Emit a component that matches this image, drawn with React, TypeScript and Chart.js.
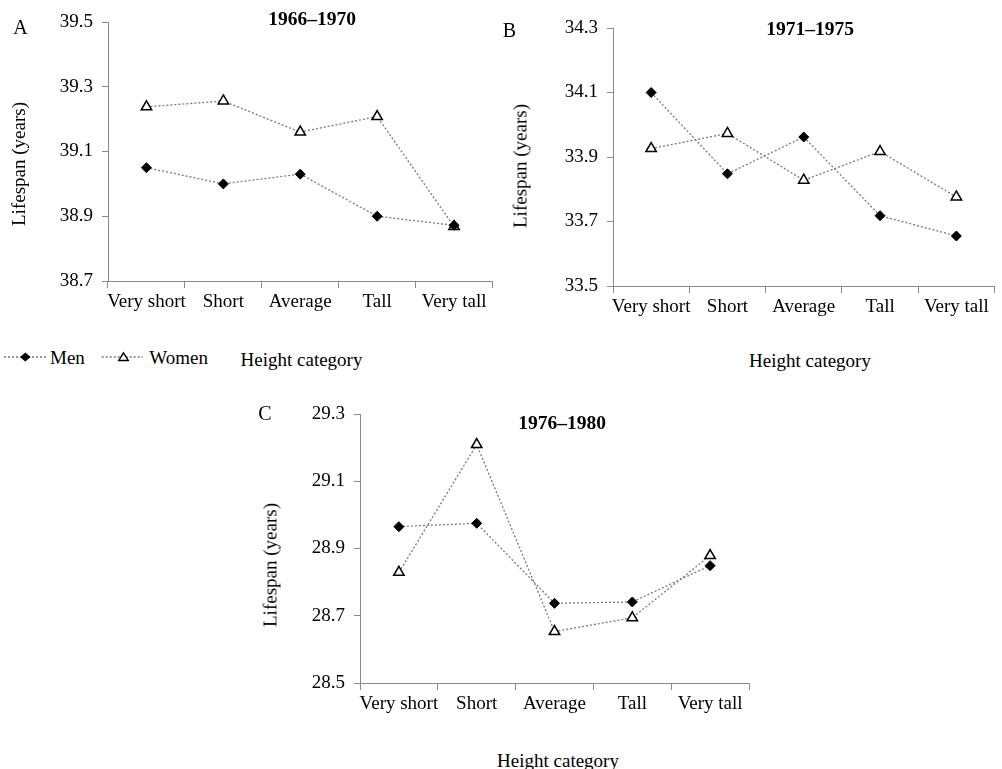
import React, { useEffect, useRef } from 'react';
import { Chart, registerables } from 'chart.js';

Chart.register(...registerables);

// ---- data ----
const categories = ['Very short', 'Short', 'Average', 'Tall', 'Very tall'];

const menA = [39.05, 39.0, 39.03, 38.9, 38.872];
const womenA = [39.238, 39.256, 39.16, 39.208, 38.868];
const yTicksA = [38.7, 38.9, 39.1, 39.3, 39.5];

const menB = [34.1, 33.848, 33.962, 33.718, 33.655];
const womenB = [33.926, 33.973, 33.828, 33.917, 33.776];
const yTicksB = [33.5, 33.7, 33.9, 34.1, 34.3];

const menC = [28.965, 28.975, 28.737, 28.741, 28.849];
const womenC = [28.829, 29.209, 28.653, 28.694, 28.879];
const yTicksC = [28.5, 28.7, 28.9, 29.1, 29.3];

const titles = ['1966\u20131970', '1971\u20131975', '1976\u20131980'];
const panelLetters = ['A', 'B', 'C'];
const seriesNames = ['Men', 'Women'];
const xTitle = 'Height category';
const yTitle = 'Lifespan (years)';

// ---- style ----
const FONT = '"Liberation Serif", "Times New Roman", serif';
const FS = 19;
const GRAY = '#7a7a7a';
const AXIS = '#8a8a8a';

type Area = { left: number; top: number; right: number; bottom: number };

function Panel(props: {
  left: number; top: number; width: number; height: number; area: Area;
  men: number[]; women: number[]; yTicks: number[];
}) {
  const { left, top, width, height, area, men, women, yTicks } = props;
  const ref = useRef<HTMLCanvasElement | null>(null);
  useEffect(() => {
    if (!ref.current) return;
    const chart = new Chart(ref.current, {
      type: 'line',
      data: {
        labels: categories,
        datasets: [
          {
            label: seriesNames[0],
            data: men,
            borderColor: GRAY,
            borderWidth: 1.3,
            borderDash: [2, 2],
            tension: 0,
            fill: false,
            pointStyle: 'rectRot',
            pointRadius: 5,
            pointBackgroundColor: '#000',
            pointBorderColor: '#000',
            pointBorderWidth: 1,
          },
          {
            label: seriesNames[1],
            data: women,
            borderColor: GRAY,
            borderWidth: 1.3,
            borderDash: [2, 2],
            tension: 0,
            fill: false,
            pointStyle: 'triangle',
            pointRadius: 6,
            pointBackgroundColor: '#fff',
            pointBorderColor: '#000',
            pointBorderWidth: 1.5,
          },
        ],
      },
      options: {
        animation: false,
        responsive: false,
        events: [],
        layout: { padding: { left: 0, top: area.top, right: width - area.right, bottom: 0 } },
        plugins: {
          legend: { display: false },
          tooltip: { enabled: false },
          title: { display: false },
        },
        scales: {
          x: {
            type: 'category',
            offset: true,
            grid: {
              display: true,
              offset: true,
              drawOnChartArea: false,
              drawTicks: true,
              tickLength: 7,
              tickColor: AXIS,
              tickWidth: 1,
            },
            border: { display: true, color: AXIS, width: 1 },
            ticks: {
              color: '#000',
              font: { family: FONT, size: FS },
              padding: 3,
              maxRotation: 0,
              autoSkip: false,
            },
            afterFit: (s: any) => {
              s.height = height - area.bottom;
              s.paddingLeft = 0;
              s.paddingRight = 0;
            },
          },
          y: {
            type: 'linear',
            min: yTicks[0],
            max: yTicks[yTicks.length - 1],
            afterBuildTicks: (s: any) => {
              s.ticks = yTicks.map((v) => ({ value: v }));
            },
            grid: {
              display: true,
              drawOnChartArea: false,
              drawTicks: true,
              tickLength: 6,
              tickColor: AXIS,
              tickWidth: 1,
            },
            border: { display: true, color: AXIS, width: 1 },
            ticks: {
              color: '#000',
              font: { family: FONT, size: FS },
              padding: 9,
              callback: (v: any) => Number(v).toFixed(1),
            },
            afterFit: (s: any) => {
              s.width = area.left;
              s.paddingTop = 0;
              s.paddingBottom = 0;
            },
          },
        },
      } as any,
    });
    return () => chart.destroy();
  }, []);
  return (
    <canvas
      ref={ref}
      width={width}
      height={height}
      style={{ position: 'absolute', left, top, width, height }}
    />
  );
}

function Txt(props: { x: number; y: number; text: string; bold?: boolean; rotate?: boolean; align?: 'center' | 'left'; size?: number }) {
  const { x, y, text, bold, rotate, align, size } = props;
  const tx = align === 'left' ? '0' : '-50%';
  return (
    <div
      style={{
        position: 'absolute',
        left: x,
        top: y,
        transform: `translate(${tx},-50%)${rotate ? ' rotate(-90deg)' : ''}`,
        font: `${bold ? 'bold ' : ''}${size ?? FS}px ${FONT}`,
        lineHeight: 1,
        whiteSpace: 'nowrap',
        color: '#000',
      }}
    >
      {text}
    </div>
  );
}

export default function App() {
  return (
    <div
      style={{
        position: 'absolute',
        left: 0,
        top: 0,
        width: 1002,
        height: 769,
        background: '#fff',
        overflow: 'hidden',
      }}
    >
      <Panel
        left={0} top={0} width={500} height={330}
        area={{ left: 108, top: 22, right: 497, bottom: 281 }}
        men={menA} women={womenA} yTicks={yTicksA}
      />
      <Panel
        left={500} top={0} width={502} height={330}
        area={{ left: 113, top: 28, right: 501, bottom: 286 }}
        men={menB} women={womenB} yTicks={yTicksB}
      />
      <Panel
        left={250} top={390} width={520} height={340}
        area={{ left: 110, top: 24, right: 499, bottom: 293 }}
        men={menC} women={womenC} yTicks={yTicksC}
      />

      {/* panel letters */}
      <Txt x={20.5} y={27} text={panelLetters[0]} size={20} />
      <Txt x={509.5} y={30} text={panelLetters[1]} size={20} />
      <Txt x={265} y={413} text={panelLetters[2]} size={20} />

      {/* panel titles */}
      <Txt x={312} y={18.5} text={titles[0]} bold size={19.5} />
      <Txt x={810} y={29} text={titles[1]} bold size={19.5} />
      <Txt x={562} y={423} text={titles[2]} bold size={19.5} />

      {/* y-axis titles */}
      <Txt x={18} y={164} text={yTitle} rotate />
      <Txt x={520} y={166} text={yTitle} rotate />
      <Txt x={270} y={565} text={yTitle} rotate />

      {/* x-axis titles */}
      <Txt x={301.5} y={358.5} text={xTitle} />
      <Txt x={810} y={360} text={xTitle} />
      <Txt x={558} y={759.5} text={xTitle} />

      {/* legend */}
      <svg
        width={160}
        height={30}
        style={{ position: 'absolute', left: 0, top: 342 }}
      >
        <line x1={4} y1={15} x2={46.5} y2={15} stroke={GRAY} strokeWidth={1.3} strokeDasharray="2 2" />
        <polygon points="20,15 25.3,10.5 30.6,15 25.3,19.5" fill="#000" />
        <line x1={101.7} y1={15} x2={142.7} y2={15} stroke={GRAY} strokeWidth={1.3} strokeDasharray="2 2" />
        <polygon points="123.5,10.8 128.3,18.5 118.7,18.5" fill="#fff" stroke="#000" strokeWidth={1.4} />
      </svg>
      <Txt x={50} y={357} text={seriesNames[0]} align="left" />
      <Txt x={149.3} y={357} text={seriesNames[1]} align="left" />
    </div>
  );
}
